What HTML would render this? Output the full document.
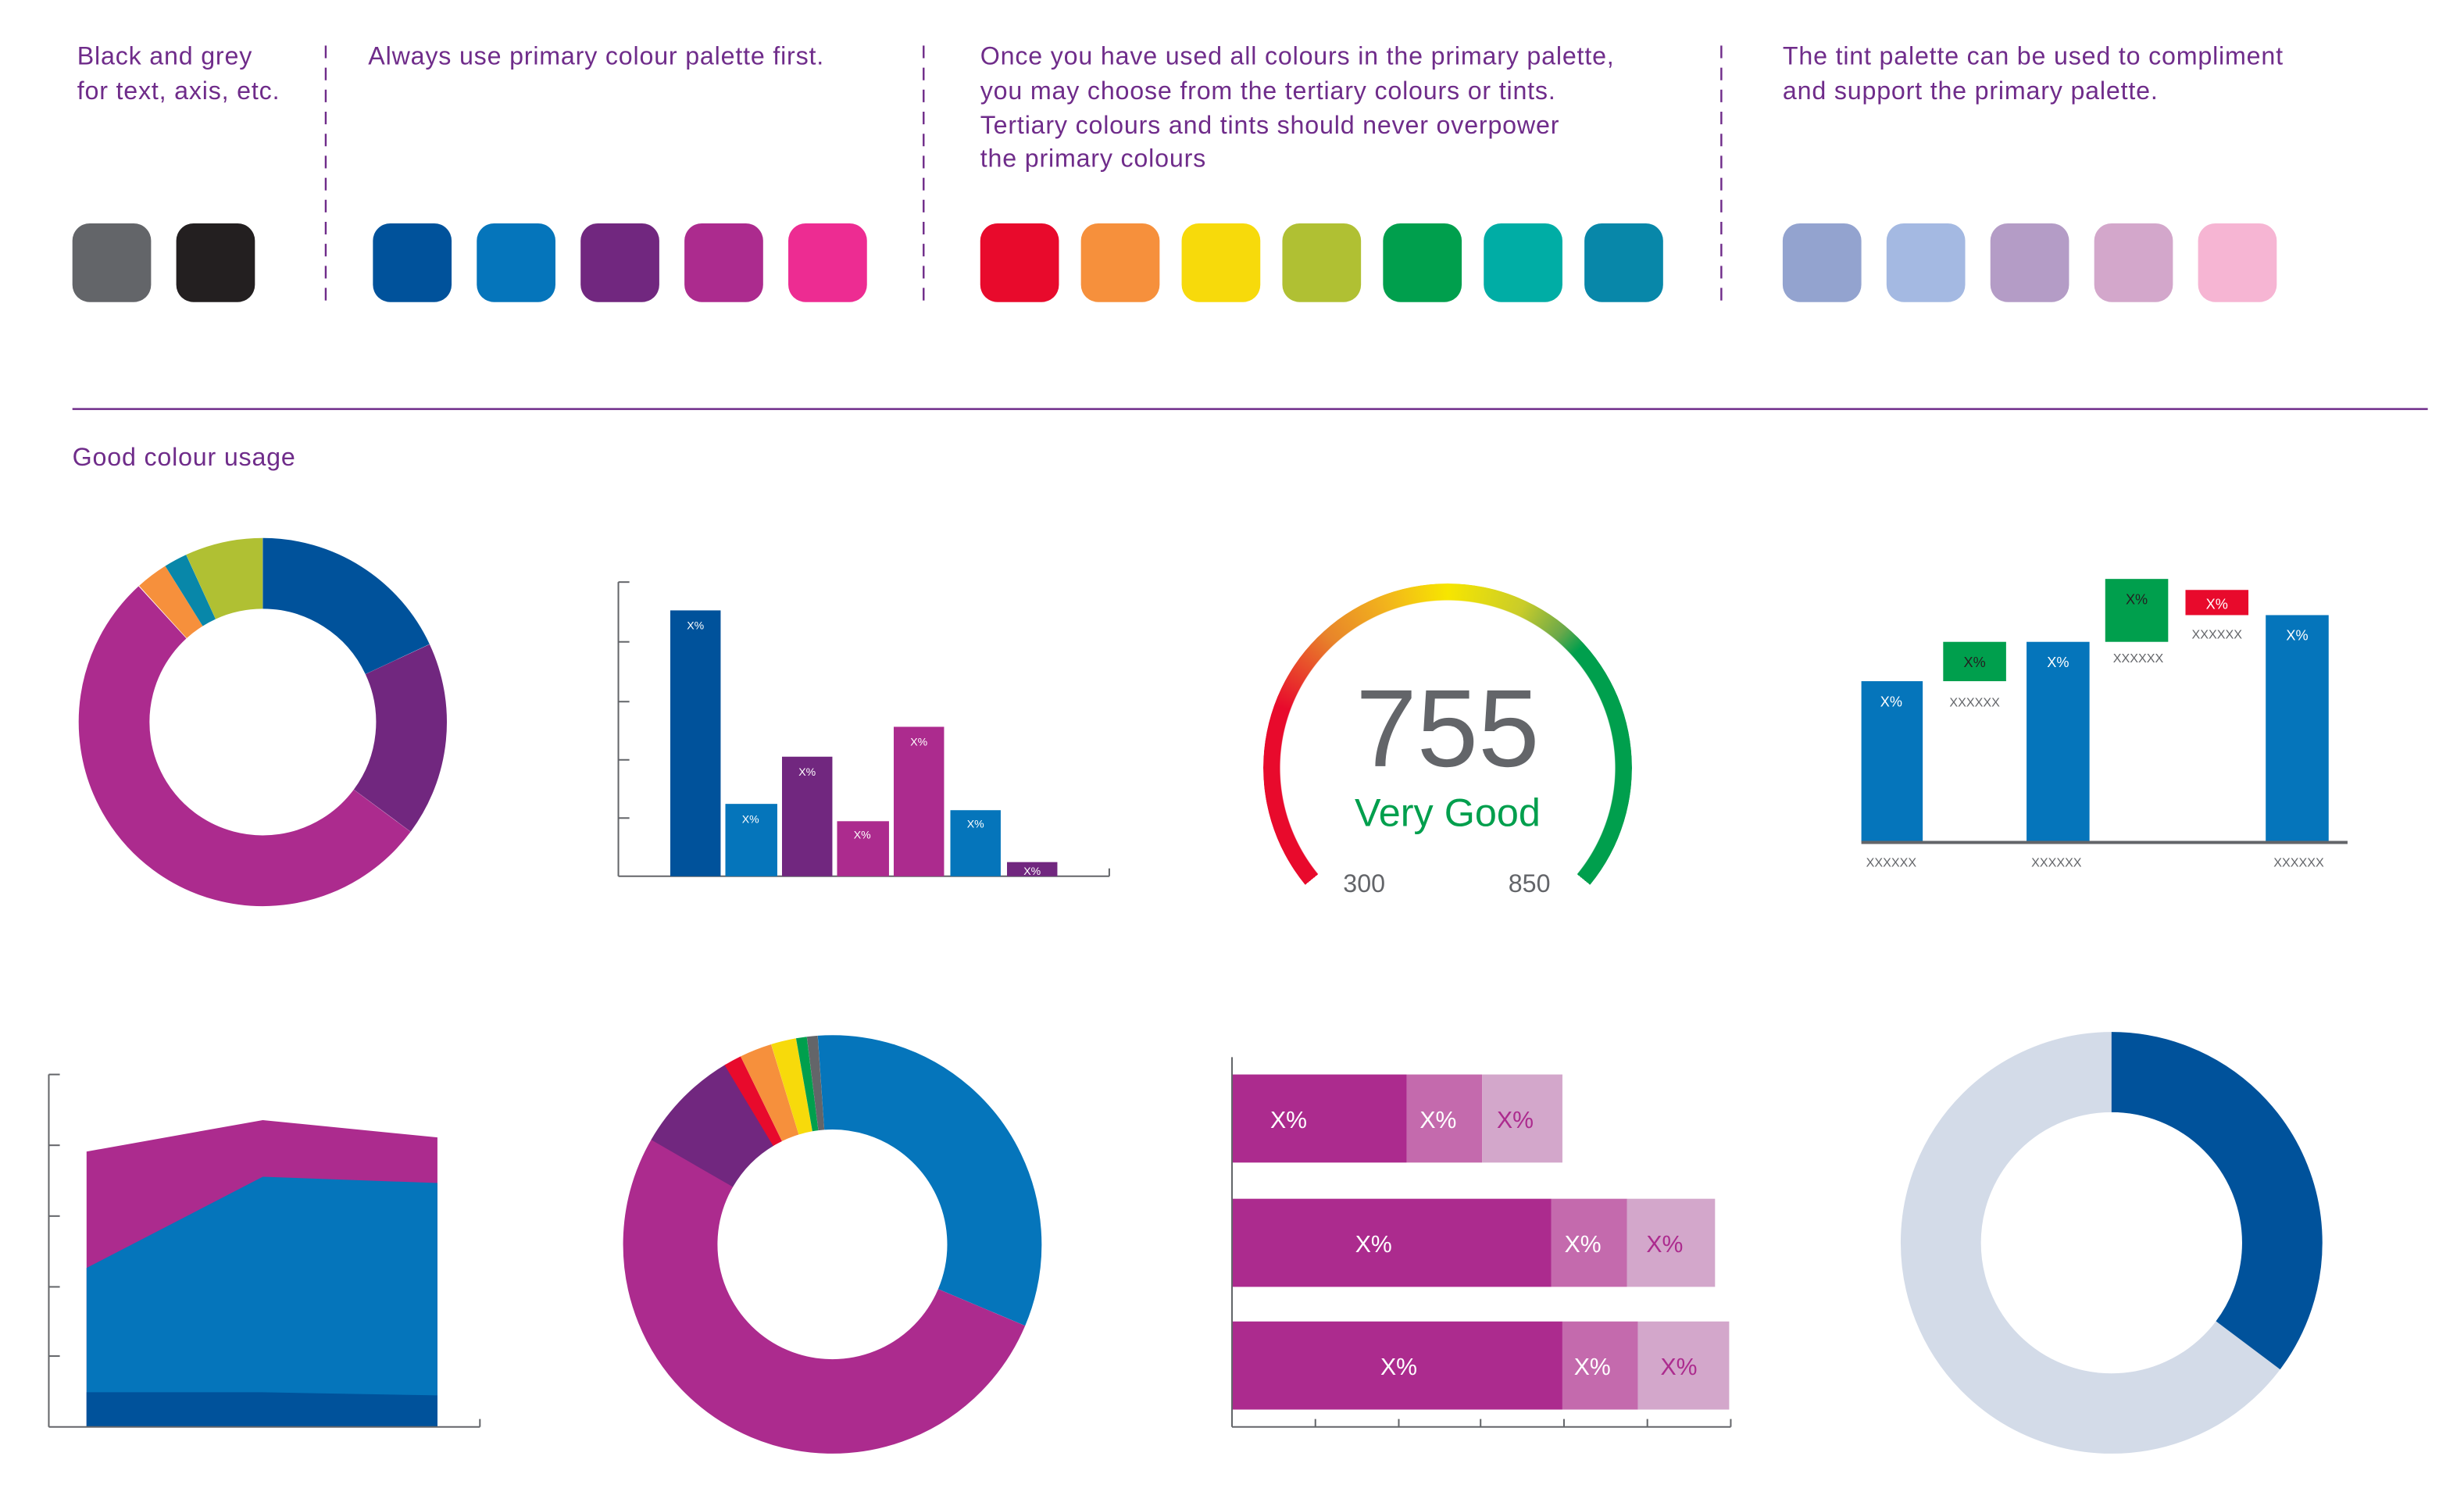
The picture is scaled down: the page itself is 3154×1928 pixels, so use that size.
<!DOCTYPE html>
<html><head><meta charset="utf-8"><style>
html,body{margin:0;padding:0;background:#fff;}
body{width:3154px;height:1928px;position:relative;overflow:hidden;font-family:"Liberation Sans",sans-serif;}
svg{position:absolute;left:0;top:0;}
.ring{position:absolute;left:1617px;top:747px;width:472px;height:472px;border-radius:50%;
background:conic-gradient(#f7e600 0deg,#c9cc2a 25deg,#6aa84a 40deg,#009f4d 48deg,#009f4d 129.4deg,transparent 129.4deg,transparent 230.6deg,#e80a2c 230.6deg,#e80a2c 290deg,#e8852a 318deg,#f2b51c 340deg,#f7e600 360deg);
-webkit-mask:radial-gradient(circle,transparent 214px,#000 215px,#000 236px,transparent 237px);
mask:radial-gradient(circle,transparent 214px,#000 215px,#000 236px,transparent 237px);}
</style></head><body>
<div class="ring"></div>
<svg width="3154" height="1928" viewBox="0 0 1566 957.3" font-family="Liberation Sans, sans-serif">
<g fill="#6f2c8a" font-size="16" letter-spacing="0.4">
<text x="49" y="41">Black and grey</text><text x="49" y="63">for text, axis, etc.</text>
<text x="234" y="41">Always use primary colour palette first.</text>
<text x="623" y="41">Once you have used all colours in the primary palette,</text>
<text x="623" y="63">you may choose from the tertiary colours or tints.</text>
<text x="623" y="85">Tertiary colours and tints should never overpower</text>
<text x="623" y="106">the primary colours</text>
<text x="1133" y="41">The tint palette can be used to compliment</text>
<text x="1133" y="63">and support the primary palette.</text>
<text x="46" y="296">Good colour usage</text>
</g>
<g stroke="#6f2c8a" stroke-width="1.2" stroke-dasharray="8,6">
<line x1="207" y1="29" x2="207" y2="196"/><line x1="587" y1="29" x2="587" y2="196"/><line x1="1094" y1="29" x2="1094" y2="196"/>
</g>
<line x1="46" y1="260" x2="1543" y2="260" stroke="#6f2c8a" stroke-width="1.2"/>
<g>
<rect x="46" y="142" width="50" height="50" rx="11" fill="#636569"/>
<rect x="112" y="142" width="50" height="50" rx="11" fill="#231f20"/>
<rect x="237" y="142" width="50" height="50" rx="11" fill="#00529b"/>
<rect x="303" y="142" width="50" height="50" rx="11" fill="#0575bb"/>
<rect x="369" y="142" width="50" height="50" rx="11" fill="#71277f"/>
<rect x="435" y="142" width="50" height="50" rx="11" fill="#ac2b8e"/>
<rect x="501" y="142" width="50" height="50" rx="11" fill="#ed2c92"/>
<rect x="623" y="142" width="50" height="50" rx="11" fill="#e80a2c"/>
<rect x="687" y="142" width="50" height="50" rx="11" fill="#f6903c"/>
<rect x="751" y="142" width="50" height="50" rx="11" fill="#f7da0b"/>
<rect x="815" y="142" width="50" height="50" rx="11" fill="#b0c033"/>
<rect x="879" y="142" width="50" height="50" rx="11" fill="#009f4d"/>
<rect x="943" y="142" width="50" height="50" rx="11" fill="#00ada5"/>
<rect x="1007" y="142" width="50" height="50" rx="11" fill="#0887a9"/>
<rect x="1133" y="142" width="50" height="50" rx="11" fill="#93a3cf"/>
<rect x="1199" y="142" width="50" height="50" rx="11" fill="#a4b9e2"/>
<rect x="1265" y="142" width="50" height="50" rx="11" fill="#b49cc6"/>
<rect x="1331" y="142" width="50" height="50" rx="11" fill="#d3a7cb"/>
<rect x="1397" y="142" width="50" height="50" rx="11" fill="#f6b5d3"/>
</g>
<!-- donut 1 -->
<g fill="none" stroke-width="45">
<circle cx="167" cy="459" r="94.5" pathLength="360" stroke="#00529b" stroke-dasharray="65 400" transform="rotate(-90 167 459)"/>
<circle cx="167" cy="459" r="94.5" pathLength="360" stroke="#71277f" stroke-dasharray="61.6 400" transform="rotate(-25 167 459)"/>
<circle cx="167" cy="459" r="94.5" pathLength="360" stroke="#ac2b8e" stroke-dasharray="191.2 400" transform="rotate(36.6 167 459)"/>
<circle cx="167" cy="459" r="94.5" pathLength="360" stroke="#f6903c" stroke-dasharray="10.2 400" transform="rotate(227.8 167 459)"/>
<circle cx="167" cy="459" r="94.5" pathLength="360" stroke="#0887a9" stroke-dasharray="7.4 400" transform="rotate(238 167 459)"/>
<circle cx="167" cy="459" r="94.5" pathLength="360" stroke="#b0c033" stroke-dasharray="24.6 400" transform="rotate(245.4 167 459)"/>
</g>
<!-- bar chart 1 -->
<g stroke="#636569" stroke-width="1">
<line x1="393" y1="370" x2="393" y2="557"/><line x1="393" y1="557" x2="705" y2="557"/>
<line x1="393" y1="370" x2="400" y2="370"/><line x1="393" y1="408" x2="400" y2="408"/><line x1="393" y1="446" x2="400" y2="446"/><line x1="393" y1="483" x2="400" y2="483"/><line x1="393" y1="520" x2="400" y2="520"/>
<line x1="705" y1="552" x2="705" y2="557"/>
</g>
<rect x="426" y="388" width="32" height="169" fill="#00529b"/>
<rect x="461" y="511" width="33" height="46" fill="#0575bb"/>
<rect x="497" y="481" width="32" height="76" fill="#71277f"/>
<rect x="532" y="522" width="33" height="35" fill="#ac2b8e"/>
<rect x="568" y="462" width="32" height="95" fill="#ac2b8e"/>
<rect x="604" y="515" width="32" height="42" fill="#0575bb"/>
<rect x="640" y="548" width="32" height="9" fill="#71277f"/>
<g fill="#fff" font-size="7" text-anchor="middle">
<text x="442" y="400">X%</text><text x="477" y="523">X%</text><text x="513" y="493">X%</text><text x="548" y="533">X%</text><text x="584" y="474">X%</text><text x="620" y="526">X%</text><text x="656" y="556">X%</text>
</g>
<!-- gauge text -->
<text x="920" y="487" font-size="70" fill="#636569" text-anchor="middle">755</text>
<text x="920" y="525" font-size="25" fill="#009f4d" text-anchor="middle">Very Good</text>
<text x="867" y="567" font-size="16" fill="#636569" text-anchor="middle">300</text>
<text x="972" y="567" font-size="16" fill="#636569" text-anchor="middle">850</text>
<!-- waterfall -->
<rect x="1183" y="433" width="39" height="102" fill="#0575bb"/>
<rect x="1235" y="408" width="40" height="25" fill="#009f4d"/>
<rect x="1288" y="408" width="40" height="127" fill="#0575bb"/>
<rect x="1338" y="368" width="40" height="40" fill="#009f4d"/>
<rect x="1389" y="375" width="40" height="16" fill="#e80a2c"/>
<rect x="1440" y="391" width="40" height="144" fill="#0575bb"/>
<line x1="1183" y1="535.5" x2="1492" y2="535.5" stroke="#636569" stroke-width="2"/>
<g font-size="9" text-anchor="middle">
<text x="1202" y="449" fill="#fff">X%</text><text x="1255" y="424" fill="#231f20">X%</text><text x="1308" y="424" fill="#fff">X%</text>
<text x="1358" y="384" fill="#231f20">X%</text><text x="1409" y="387" fill="#fff">X%</text><text x="1460" y="407" fill="#fff">X%</text>
</g>
<g font-size="8" fill="#636569" text-anchor="middle">
<text x="1255" y="449">XXXXXX</text><text x="1359" y="421">XXXXXX</text><text x="1409" y="406">XXXXXX</text>
<text x="1202" y="551">XXXXXX</text><text x="1307" y="551">XXXXXX</text><text x="1461" y="551">XXXXXX</text>
</g>
<!-- area chart -->
<polygon points="55,732 167,712 278,723 278,907 55,907" fill="#ac2b8e"/>
<polygon points="55,806 167,748 278,752 278,907 55,907" fill="#0575bb"/>
<polygon points="55,885 167,885 278,887 278,907 55,907" fill="#00529b"/>
<g stroke="#636569" stroke-width="1">
<line x1="31" y1="683" x2="31" y2="907"/><line x1="31" y1="907" x2="305" y2="907"/>
<line x1="31" y1="683" x2="38" y2="683"/><line x1="31" y1="728" x2="38" y2="728"/><line x1="31" y1="773" x2="38" y2="773"/><line x1="31" y1="818" x2="38" y2="818"/><line x1="31" y1="862" x2="38" y2="862"/>
<line x1="305" y1="902" x2="305" y2="907"/>
</g>
<!-- donut 2 -->
<g fill="none" stroke-width="60">
<circle cx="529" cy="791" r="103" pathLength="360" stroke="#0575bb" stroke-dasharray="117 400" transform="rotate(-94 529 791)"/>
<circle cx="529" cy="791" r="103" pathLength="360" stroke="#ac2b8e" stroke-dasharray="187.5 400" transform="rotate(22.9 529 791)"/>
<circle cx="529" cy="791" r="103" pathLength="360" stroke="#71277f" stroke-dasharray="29.5 400" transform="rotate(210 529 791)"/>
<circle cx="529" cy="791" r="103" pathLength="360" stroke="#e80a2c" stroke-dasharray="5 400" transform="rotate(239 529 791)"/>
<circle cx="529" cy="791" r="103" pathLength="360" stroke="#f6903c" stroke-dasharray="9 400" transform="rotate(244 529 791)"/>
<circle cx="529" cy="791" r="103" pathLength="360" stroke="#f7da0b" stroke-dasharray="7 400" transform="rotate(253 529 791)"/>
<circle cx="529" cy="791" r="103" pathLength="360" stroke="#009f4d" stroke-dasharray="3 400" transform="rotate(260 529 791)"/>
<circle cx="529" cy="791" r="103" pathLength="360" stroke="#636569" stroke-dasharray="3 400" transform="rotate(263 529 791)"/>
</g>
<!-- stacked horizontal bars -->
<rect x="783" y="683" width="111" height="56" fill="#ac2b8e"/><rect x="894" y="683" width="48" height="56" fill="#c46aad"/><rect x="942" y="683" width="51" height="56" fill="#d3a7cb"/>
<rect x="783" y="762" width="203" height="56" fill="#ac2b8e"/><rect x="986" y="762" width="48" height="56" fill="#c46aad"/><rect x="1034" y="762" width="56" height="56" fill="#d3a7cb"/>
<rect x="783" y="840" width="210" height="56" fill="#ac2b8e"/><rect x="993" y="840" width="48" height="56" fill="#c46aad"/><rect x="1041" y="840" width="58" height="56" fill="#d3a7cb"/>
<g font-size="15" text-anchor="middle">
<text x="819" y="717" fill="#fff">X%</text><text x="914" y="717" fill="#fff">X%</text><text x="963" y="717" fill="#ac2b8e">X%</text>
<text x="873" y="796" fill="#fff">X%</text><text x="1006" y="796" fill="#fff">X%</text><text x="1058" y="796" fill="#ac2b8e">X%</text>
<text x="889" y="874" fill="#fff">X%</text><text x="1012" y="874" fill="#fff">X%</text><text x="1067" y="874" fill="#ac2b8e">X%</text>
</g>
<g stroke="#636569" stroke-width="1">
<line x1="783" y1="672" x2="783" y2="907"/><line x1="783" y1="907" x2="1100" y2="907"/>
<line x1="836" y1="902" x2="836" y2="907"/><line x1="889" y1="902" x2="889" y2="907"/><line x1="941" y1="902" x2="941" y2="907"/><line x1="994" y1="902" x2="994" y2="907"/><line x1="1047" y1="902" x2="1047" y2="907"/><line x1="1100" y1="902" x2="1100" y2="907"/>
</g>
<!-- donut 3 -->
<circle cx="1342" cy="790" r="108.5" fill="none" stroke="#d3dbe8" stroke-width="51"/>
<circle cx="1342" cy="790" r="108.5" fill="none" stroke="#00529b" stroke-width="51" pathLength="360" stroke-dasharray="127 400" transform="rotate(-90 1342 790)"/>
</svg>
</body></html>
